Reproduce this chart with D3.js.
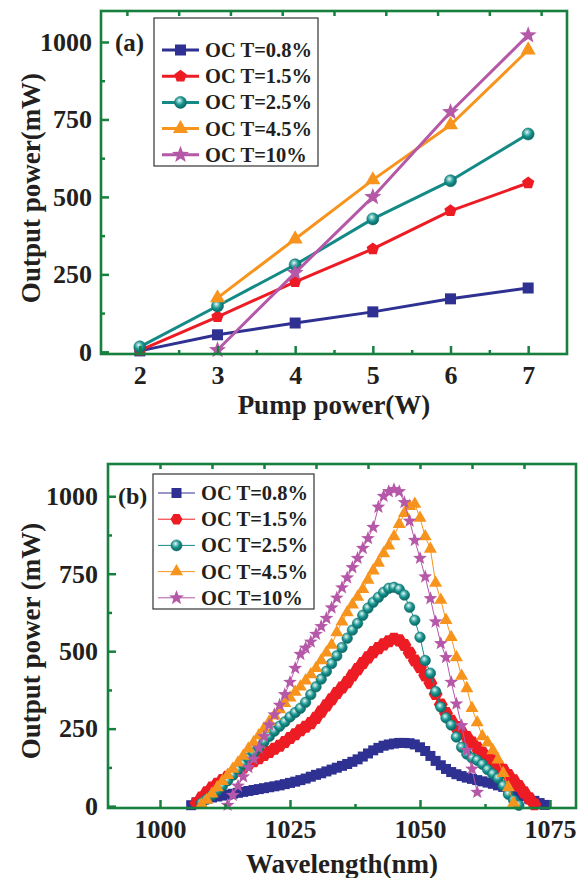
<!DOCTYPE html>
<html>
<head>
<meta charset="utf-8">
<script src="https://cdn.jsdelivr.net/npm/d3@7"></script>
<style>
  html, body { margin: 0; padding: 0; background: #fff; }
  svg { display: block; font-family: "Liberation Serif", "Times New Roman", serif; font-weight: bold; }
</style>
</head>
<body>
<svg id="chart" width="585" height="878"></svg>
<script>
// ---------- series labels and styles ----------
const seriesNames = ["OC T=0.8%", "OC T=1.5%", "OC T=2.5%", "OC T=4.5%", "OC T=10%"];
const seriesColors = ["#2E3192", "#ED1C24", "#148A87", "#F7941D", "#B658A8"];

// ---------- (a) output power vs pump power ----------
const pumpPower = [2, 3, 4, 5, 6, 7];
const outT08 = [3, 55, 93, 129, 171, 206];
const outT15 = [5, 113, 226, 332, 455, 545];
const outT25 = [16, 148, 281, 429, 552, 703];
const outT45 = [null, 174, 364, 555, 732, 974];
const outT10 = [null, 6, 255, 500, 774, 1022];
const pumpTicks = [2, 3, 4, 5, 6, 7];
const powerTicks = [0, 250, 500, 750, 1000];

// ---------- (b) output spectra: [wavelength nm, output mW] ----------
const specT08 = [[1006,3],[1007,12],[1008,19],[1009,24],[1010,28],[1011,31],[1012,34],[1013,37],[1014,40],[1015,43],
  [1016,46],[1017,49],[1018,52],[1019,55],[1020,58],[1021,61],[1022,64],[1023,67],[1024,71],[1025,75],
  [1026,79],[1027,84],[1028,89],[1029,95],[1030,101],[1031,106],[1032,112],[1033,118],[1034,124],[1035,130],
  [1036,136],[1037,143],[1038,151],[1039,160],[1040,170],[1041,180],[1042,188],[1043,195],[1044,199],[1045,202],
  [1046,204],[1047,204],[1048,203],[1049,199],[1050,190],[1051,178],[1052,162],[1053,146],[1054,132],[1055,120],
  [1056,110],[1057,103],[1058,97],[1059,92],[1060,88],[1061,84],[1062,80],[1063,76],[1064,72],[1065,67],
  [1066,62],[1067,56],[1068,48],[1069,40],[1070,32],[1071,24],[1072,17],[1073,10],[1074,4]];
const specT15 = [[1007,10],[1008,28],[1009,45],[1010,60],[1011,72],[1012,84],[1013,95],[1014,105],[1015,115],
  [1016,125],[1017,135],[1018,145],[1019,155],[1020,165],[1021,175],[1022,185],[1023,195],[1024,207],[1025,220],
  [1026,232],[1027,245],[1028,256],[1029,268],[1030,285],[1031,305],[1032,325],[1033,345],[1034,365],[1035,383],
  [1036,400],[1037,422],[1038,442],[1039,462],[1040,480],[1041,497],[1042,510],[1043,522],[1044,532],[1045,540],
  [1046,535],[1047,520],[1048,495],[1049,470],[1050,448],[1051,422],[1052,397],[1053,362],[1054,328],[1055,300],
  [1056,275],[1057,255],[1058,238],[1059,223],[1060,205],[1061,188],[1062,172],[1063,160],[1064,148],[1065,132],
  [1066,117],[1067,100],[1068,83],[1069,65],[1070,45],[1071,25],[1072,6]];
const specT25 = [[1008,10],[1009,22],[1010,35],[1011,50],[1012,65],[1013,82],[1014,100],[1015,118],[1016,136],
  [1017,155],[1018,172],[1019,190],[1020,208],[1021,225],[1022,242],[1023,258],[1024,272],[1025,288],[1026,302],
  [1027,316],[1028,335],[1029,360],[1030,385],[1031,410],[1032,435],[1033,460],[1034,485],[1035,512],[1036,542],
  [1037,568],[1038,590],[1039,616],[1040,639],[1041,658],[1042,674],[1043,690],[1044,703],[1045,706],[1046,700],
  [1047,681],[1048,642],[1049,600],[1050,545],[1051,470],[1052,429],[1053,370],[1054,320],[1055,285],[1056,262],
  [1057,223],[1058,190],[1059,168],[1060,155],[1061,148],[1062,135],[1063,118],[1064,104],[1065,90],[1066,66],
  [1067,38],[1068,19],[1069,3]];
const specT45 = [[1008,5],[1009,20],[1010,40],[1011,60],[1012,80],[1013,100],[1014,120],[1015,140],[1016,162],
  [1017,185],[1018,205],[1019,228],[1020,250],[1021,272],[1022,292],[1023,312],[1024,332],[1025,350],[1026,368],
  [1027,385],[1028,405],[1029,425],[1030,445],[1031,470],[1032,495],[1033,520],[1034,560],[1035,595],[1036,625],
  [1037,650],[1038,675],[1039,700],[1040,730],[1041,760],[1042,785],[1043,815],[1044,840],[1045,870],[1046,910],
  [1047,945],[1048,968],[1049,975],[1050,930],[1051,870],[1052,830],[1053,720],[1054,665],[1055,600],[1056,545],
  [1057,480],[1058,420],[1059,380],[1060,316],[1061,270],[1062,225],[1063,205],[1064,180],[1065,150],[1066,106],
  [1067,60],[1068,10]];
const specT10 = [[1013,3],[1014,35],[1015,65],[1016,95],[1017,125],[1018,152],[1019,188],[1020,225],[1021,262],
  [1022,295],[1023,326],[1024,360],[1025,400],[1026,445],[1027,490],[1028,510],[1029,530],[1030,555],[1031,580],
  [1032,606],[1033,640],[1034,672],[1035,705],[1036,737],[1037,770],[1038,800],[1039,832],[1040,864],[1041,900],
  [1042,965],[1043,1000],[1044,1015],[1045,1022],[1046,1015],[1047,980],[1048,920],[1049,858],[1050,800],
  [1051,740],[1052,670],[1053,595],[1054,525],[1055,480],[1056,400],[1057,330],[1058,260],[1059,180],[1060,120],
  [1061,45]];
const wavelengthTicks = [1000, 1025, 1050, 1075];

// ---------- drawing ----------
const svg = d3.select("#chart");
const axisGreen = "#17803E";

const defs = svg.append("defs");
const grad = defs.append("radialGradient").attr("id", "ball")
  .attr("cx", "42%").attr("cy", "38%").attr("r", "62%").attr("fx", "40%").attr("fy", "34%");
grad.append("stop").attr("offset", "0%").attr("stop-color", "#f2fbfa");
grad.append("stop").attr("offset", "22%").attr("stop-color", "#8fd0cc");
grad.append("stop").attr("offset", "55%").attr("stop-color", "#199590");
grad.append("stop").attr("offset", "100%").attr("stop-color", "#0c6461");

function polygon(n, r, rot) {
  const pts = d3.range(n).map(i => {
    const a = rot + i * 2 * Math.PI / n;
    return [r * Math.cos(a), r * Math.sin(a)];
  });
  return "M" + pts.map(p => p[0].toFixed(2) + "," + p[1].toFixed(2)).join("L") + "Z";
}
function starShape(r) {
  const pts = d3.range(10).map(i => {
    const a = -Math.PI / 2 + i * Math.PI / 5;
    const rr = i % 2 === 0 ? r : r * 0.42;
    return [rr * Math.cos(a), rr * Math.sin(a)];
  });
  return "M" + pts.map(p => p[0].toFixed(2) + "," + p[1].toFixed(2)).join("L") + "Z";
}
function markerPath(kind, s) {
  switch (kind) {
    case "square": return polygon(4, s * Math.SQRT1_2, Math.PI / 4);
    case "pentagon": return polygon(5, s / 2, -Math.PI / 2);
    case "hexagon": return polygon(6, s / 2, 0);
    case "triangle": return polygon(3, s * 0.58, -Math.PI / 2);
    case "star": return starShape(s * 0.56);
    default: return null;
  }
}
function drawMarker(g, kind, s, color, x, y) {
  if (kind === "ball") {
    g.append("circle").attr("cx", x).attr("cy", y).attr("r", s / 2)
      .attr("fill", "url(#ball)").attr("stroke", "#0f6f6c").attr("stroke-width", 0.6);
  } else {
    g.append("path").attr("d", markerPath(kind, s))
      .attr("transform", `translate(${x},${y})`).attr("fill", color);
  }
}

function drawPanel(cfg) {
  const { left, right, top, bottom } = cfg.box;
  const x = d3.scaleLinear().domain(cfg.xDomain).range([left, right]);
  const y = d3.scaleLinear().domain(cfg.yDomain).range([bottom, top]);
  const g = svg.append("g");

  // series
  cfg.series.forEach((s, i) => {
    const line = d3.line().defined(d => d[1] != null).x(d => x(d[0])).y(d => y(d[1]));
    g.append("path").datum(s.data).attr("d", line)
      .attr("fill", "none").attr("stroke", seriesColors[i]).attr("stroke-width", cfg.lineWidth)
      .attr("stroke-linejoin", "round");
    const mg = g.append("g");
    s.data.filter(d => d[1] != null).forEach(d =>
      drawMarker(mg, s.marker, s.size, seriesColors[i], x(d[0]), y(d[1])));
  });

  // ticks (pointing into the plot)
  const styleAxis = sel => {
    sel.select(".domain").remove();
    sel.selectAll(".tick line").attr("stroke", axisGreen).attr("stroke-width", 2.5);
    sel.selectAll(".tick text").attr("fill", "#231f20").attr("font-size", 26)
      .attr("font-family", "Liberation Serif, Times New Roman, serif").attr("font-weight", "bold");
  };
  g.append("g").attr("transform", `translate(0,${bottom})`)
    .call(d3.axisBottom(x).tickValues(cfg.xMinor).tickSize(-4).tickFormat("")).call(styleAxis);
  g.append("g").attr("transform", `translate(${left},0)`)
    .call(d3.axisLeft(y).tickValues(cfg.yMinor).tickSize(-4).tickFormat("")).call(styleAxis);
  g.append("g").attr("transform", `translate(0,${bottom})`)
    .call(d3.axisBottom(x).tickValues(cfg.xTicks).tickSize(-8).tickPadding(cfg.xPad).tickFormat(d3.format("d")))
    .call(styleAxis);
  g.append("g").attr("transform", `translate(${left},0)`)
    .call(d3.axisLeft(y).tickValues(powerTicks).tickSize(-8).tickPadding(cfg.yPad).tickFormat(d3.format("d")))
    .call(styleAxis);
  g.append("g").attr("transform", `translate(0,${top})`)
    .call(d3.axisTop(cfg.topScale).tickValues(cfg.topTicks).tickSize(-5).tickFormat("")).call(styleAxis);

  // frame
  g.append("rect").attr("x", left).attr("y", top).attr("width", right - left).attr("height", bottom - top)
    .attr("fill", "none").attr("stroke", axisGreen).attr("stroke-width", 2.6);

  // axis titles
  g.append("text").attr("x", (left + right) / 2).attr("y", cfg.xTitleY).attr("text-anchor", "middle")
    .attr("font-size", 27).attr("fill", "#231f20").text(cfg.xTitle);
  g.append("text").attr("transform", `translate(${cfg.yTitleX},${cfg.yTitleCY}) rotate(-90)`)
    .attr("text-anchor", "middle").attr("font-size", 27).attr("fill", "#231f20").text(cfg.yTitle);

  // panel letter
  g.append("text").attr("x", cfg.tag.x).attr("y", cfg.tag.y).attr("font-size", cfg.tag.size)
    .attr("fill", "#231f20").text(cfg.tag.text);

  // legend
  const L = cfg.legend;
  g.append("rect").attr("x", L.x).attr("y", L.y).attr("width", L.w).attr("height", L.h)
    .attr("fill", "#fff").attr("stroke", "#333").attr("stroke-width", 1.2);
  cfg.series.forEach((s, i) => {
    const cy = L.row0 + i * L.step;
    g.append("line").attr("x1", L.lx1).attr("x2", L.lx2).attr("y1", cy).attr("y2", cy)
      .attr("stroke", seriesColors[i]).attr("stroke-width", L.lw);
    drawMarker(g, s.marker, L.ms[i], seriesColors[i], (L.lx1 + L.lx2) / 2, cy);
    g.append("text").attr("x", L.tx).attr("y", cy + 7).attr("font-size", 20.5)
      .attr("fill", "#231f20").text(seriesNames[i]);
  });
}

const boxA = { left: 101, right: 567, top: 11, bottom: 354 };
drawPanel({
  box: boxA,
  xDomain: [1.5, 7.5], yDomain: [-7, 1100],
  xTicks: pumpTicks, xMinor: [2.5, 3.5, 4.5, 5.5, 6.5],
  yMinor: [125, 375, 625, 875],
  topScale: d3.scaleLinear().domain([-0.5, 8.5]).range([boxA.left, boxA.right]),
  topTicks: d3.range(0, 9),
  xPad: 12, yPad: 9,
  lineWidth: 3,
  series: [
    { data: pumpPower.map((p, k) => [p, outT08[k]]), marker: "square", size: 11 },
    { data: pumpPower.map((p, k) => [p, outT15[k]]), marker: "pentagon", size: 13 },
    { data: pumpPower.map((p, k) => [p, outT25[k]]), marker: "ball", size: 12 },
    { data: pumpPower.map((p, k) => [p, outT45[k]]), marker: "triangle", size: 15 },
    { data: pumpPower.map((p, k) => [p, outT10[k]]), marker: "star", size: 16 }
  ],
  xTitle: "Pump power(W)", xTitleY: 414,
  yTitle: "Output power(mW)", yTitleX: 40, yTitleCY: 188,
  tag: { text: "(a)", x: 115, y: 51, size: 25 },
  legend: { x: 154, y: 18, w: 164, h: 148, row0: 50, step: 26.2, lx1: 162, lx2: 199, lw: 3,
            tx: 205, ms: [11, 13, 12, 15, 16] }
});

const boxB = { left: 108, right: 576, top: 464, bottom: 808 };
drawPanel({
  box: boxB,
  xDomain: [990, 1080], yDomain: [-6, 1104],
  xTicks: wavelengthTicks, xMinor: [1012.5, 1037.5, 1062.5],
  yMinor: [125, 375, 625, 875],
  topScale: d3.scaleLinear().domain([990, 1080]).range([boxB.left, boxB.right]),
  topTicks: d3.range(1000, 1071, 10),
  xPad: 12, yPad: 10,
  lineWidth: 1,
  series: [
    { data: specT08, marker: "square", size: 10 },
    { data: specT15, marker: "hexagon", size: 14 },
    { data: specT25, marker: "ball", size: 10.5 },
    { data: specT45, marker: "triangle", size: 13 },
    { data: specT10, marker: "star", size: 13 }
  ],
  xTitle: "Wavelength(nm)", xTitleY: 873,
  yTitle: "Output power (mW)", yTitleX: 40, yTitleCY: 641,
  tag: { text: "(b)", x: 118, y: 504, size: 24 },
  legend: { x: 153, y: 474, w: 161, h: 135, row0: 493, step: 26.2, lx1: 158, lx2: 195, lw: 1,
            tx: 201, ms: [10, 12, 11, 13, 14] }
});
</script>
</body>
</html>
